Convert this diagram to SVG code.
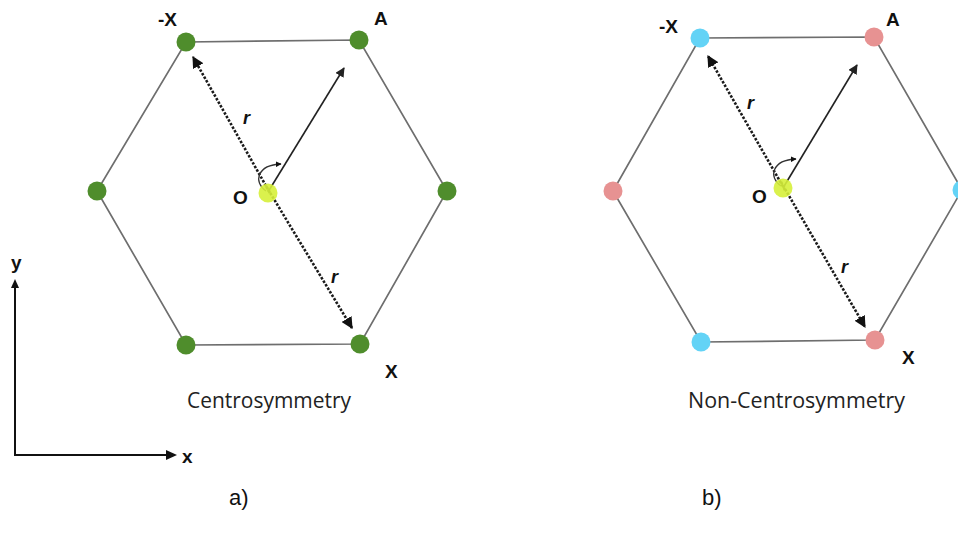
<svg xmlns="http://www.w3.org/2000/svg" width="958" height="537" viewBox="0 0 958 537">
<defs>
<marker id="ah" viewBox="0 0 10 10" refX="9" refY="5" markerWidth="4.5" markerHeight="4.5" orient="auto" markerUnits="strokeWidth"><path d="M0,0 L10,5 L0,10 z" fill="#111"/></marker>
<marker id="ahs" viewBox="0 0 10 10" refX="9" refY="5" markerWidth="6" markerHeight="6" orient="auto" markerUnits="strokeWidth"><path d="M0,0 L10,5 L0,10 z" fill="#222"/></marker>
<marker id="aha" viewBox="0 0 10 10" refX="9" refY="5" markerWidth="4.5" markerHeight="4.5" orient="auto" markerUnits="strokeWidth"><path d="M0,0 L10,5 L0,10 z" fill="#111"/></marker>
</defs>
<style>
.hex{fill:none;stroke:#6e6e6e;stroke-width:1.7}
.dash{fill:none;stroke:#1a1a1a;stroke-width:2.6;stroke-dasharray:2.5 1.6}
.sol{fill:none;stroke:#222;stroke-width:1.6}
.arc{fill:none;stroke:#333;stroke-width:1.3}
.axis{fill:none;stroke:#111;stroke-width:2}
.g{fill:#4f8d2c}
.c{fill:#63d3f6}
.p{fill:#e79292}
.o{fill:#d6f03a}
.lb{font-family:"Liberation Sans",Arial,sans-serif;font-weight:bold;font-size:19px;fill:#111}
.ri{font-family:"Liberation Sans",Arial,sans-serif;font-weight:bold;font-style:italic;font-size:18px;fill:#111}
.cap{font-family:"Open Sans","Noto Sans",sans-serif;font-size:21px;fill:#222}
.sub{font-family:"Liberation Sans",Arial,sans-serif;font-size:22px;fill:#111}
</style>
<g id="connectors">
<polygon class="hex" points="186,42 359,40 447,191 360,344 186,345 97,191"/>
<polygon class="hex" points="700,38 874,37 962,190 875,340 701,342 613,191"/>
<line class="dash" x1="270" y1="193" x2="193" y2="57" marker-end="url(#ah)"/>
<line class="dash" x1="266" y1="186" x2="352" y2="328" marker-end="url(#ah)"/>
<line class="sol" x1="268" y1="192" x2="344" y2="68" marker-end="url(#ahs)"/>
<path class="arc" d="M266,191 C253,182 257,165 281,164" marker-end="url(#aha)"/>
<line class="dash" x1="785" y1="190" x2="708" y2="56" marker-end="url(#ah)"/>
<line class="dash" x1="781" y1="182" x2="865" y2="327" marker-end="url(#ah)"/>
<line class="sol" x1="783" y1="188" x2="857" y2="65" marker-end="url(#ahs)"/>
<path class="arc" d="M781,186 C768,177 772,160 796,159" marker-end="url(#aha)"/>
<polyline class="axis" points="15,283 15,455 172,455"/>
<path d="M15,279 L11,288 L19,288 z" fill="#111"/>
<path d="M177,455 L166,450 L166,460 z" fill="#111"/>
</g>
<g id="panel-a-nodes">
<g id="a-negX"><circle class="g" cx="186" cy="42" r="9.5"/></g>
<g id="a-A"><circle class="g" cx="359" cy="40" r="9.5"/></g>
<g id="a-right"><circle class="g" cx="447" cy="191" r="9.5"/></g>
<g id="a-X"><circle class="g" cx="360" cy="344" r="9.5"/></g>
<g id="a-bl"><circle class="g" cx="186" cy="345" r="9.5"/></g>
<g id="a-left"><circle class="g" cx="97" cy="191" r="9.5"/></g>
<g id="a-O"><circle class="o" cx="268" cy="193" r="9.5" opacity="0.9"/></g>
</g>
<g id="panel-b-nodes">
<g id="b-negX"><circle class="c" cx="700" cy="38" r="9.5"/></g>
<g id="b-A"><circle class="p" cx="874" cy="37" r="9.5"/></g>
<g id="b-right"><circle class="c" cx="962" cy="190" r="9.5"/></g>
<g id="b-X"><circle class="p" cx="875" cy="340" r="9.5"/></g>
<g id="b-bl"><circle class="c" cx="701" cy="342" r="9.5"/></g>
<g id="b-left"><circle class="p" cx="613" cy="191" r="9.5"/></g>
<g id="b-O"><circle class="o" cx="783" cy="188" r="9.5" opacity="0.9"/></g>
</g>
<g id="labels">
<text class="lb" x="177" y="26" text-anchor="end">-X</text>
<text class="lb" x="374" y="25">A</text>
<text class="ri" x="243" y="124">r</text>
<text class="lb" x="233" y="204">O</text>
<text class="ri" x="331" y="283">r</text>
<text class="lb" x="385" y="378">X</text>
<text class="cap" x="187" y="408" textLength="164" lengthAdjust="spacingAndGlyphs">Centrosymmetry</text>
<text class="lb" x="678" y="33" text-anchor="end">-X</text>
<text class="lb" x="886" y="26">A</text>
<text class="ri" x="747" y="109">r</text>
<text class="lb" x="752" y="203">O</text>
<text class="ri" x="841" y="273">r</text>
<text class="lb" x="902" y="364">X</text>
<text class="cap" x="688" y="408" textLength="217" lengthAdjust="spacingAndGlyphs">Non-Centrosymmetry</text>
<text class="lb" x="11" y="269">y</text>
<text class="lb" x="182" y="463">x</text>
<text class="sub" x="229" y="505">a)</text>
<text class="sub" x="702" y="505">b)</text>
</g>
</svg>
